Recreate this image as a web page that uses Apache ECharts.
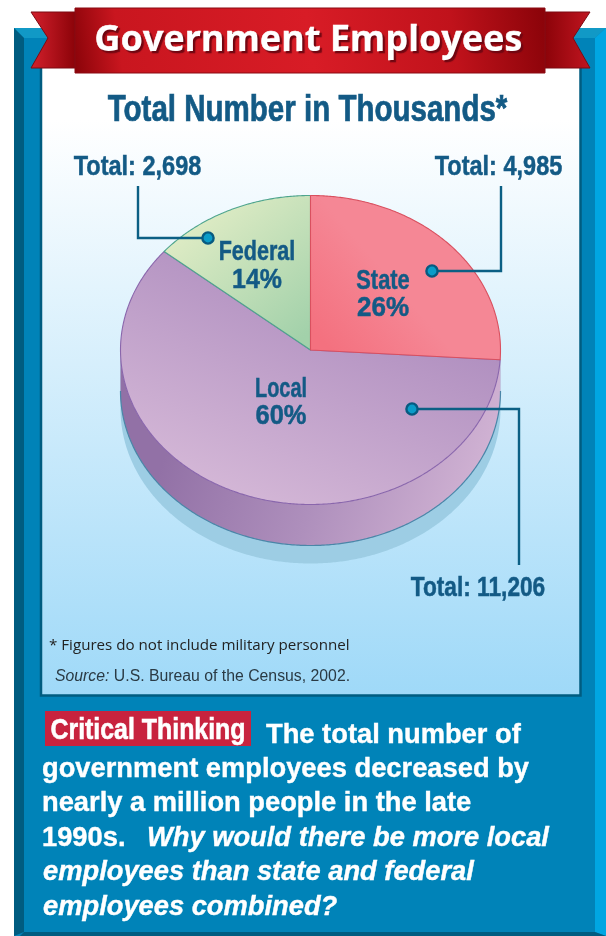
<!DOCTYPE html>
<html><head><meta charset="utf-8">
<style>html,body{margin:0;padding:0;background:#fff}#main{width:606px;height:936px}</style>
<script src="https://cdn.jsdelivr.net/npm/echarts@6/dist/echarts.min.js"></script>
</head><body><div id="main"></div>
<script>
const categories = ['State', 'Local', 'Federal'];
const percents = [26, 60, 14];
const totals = [4985, 11206, 2698];
const chartTitle = 'Government Employees';
const subTitle = 'Total Number in Thousands*';

const CX = 310.5, CY = 350, RX = 190, RY = 154.5, DEPTH = 41, SHADOW = 59;
const NARROW = '"Liberation Sans",sans-serif';
const grad = (x, y, x2, y2, a, b) => ({type:'linear', x, y, x2, y2, global:true,
  colorStops:[{offset:0,color:a},{offset:1,color:b}]});
const sliceStyle = {
  State:  {fill:grad(330,350,400,290,'#f4717f','#f58795'), stroke:'#d9505f'},
  Local:  {fill:grad(345,280,250,500,'#af8ebf','#d3b6d6'), stroke:'#8a66ac'},
  Federal:{fill:grad(190,210,300,340,'#e2edc6','#a2d1aa'), stroke:'#4fa58e'}
};
const labelPos = {State:[383,281,308,.78,.93], Local:[281,389,416,.71,.91], Federal:[257,252,280,.77,.89]};
const callouts = {
  State:{pts:[[501,186],[501,271],[432,271]], dot:[432,271], tx:498.5, ty:167, sx:.84},
  Local:{pts:[[519,565],[519,409],[412,409]], dot:[412,409], tx:478, ty:588, sx:.81},
  Federal:{pts:[[138,186],[138,238],[208,238]], dot:[208,238], tx:137.5, ty:167, sx:.84}
};
const arc = (a0, a1, dy) => { // angles in degrees clockwise from the top
  const out = [], n = Math.max(2, Math.ceil(Math.abs(a1 - a0) * 2));
  for (let k = 0; k <= n; k++) {
    const t = (a0 + (a1 - a0) * k / n) * Math.PI / 180;
    out.push([CX + RX * Math.sin(t), CY + dy - RY * Math.cos(t)]);
  }
  return out;
};
const cumStart = i => percents.slice(0, i).reduce((a, b) => a + b, 0) * 3.6;

function stretched(x, y, text, size, fill, sx, heavy) {
  return {type:'text', x, y, scaleX:sx, silent:true,
    style:{text, fill, font:'bold '+size+'px '+NARROW, textAlign:'center', textVerticalAlign:'middle',
      stroke:fill, lineWidth:heavy===undefined?0.5:heavy}};
}

function renderSlice(params, api) {
  const i = api.value(0), name = categories[i];
  const a0 = cumStart(i), a1 = a0 + percents[i] * 3.6;
  const st = sliceStyle[name];
  return {type:'polygon', z2:i===0?5:(i===2?4:3), shape:{points:[[CX,CY]].concat(arc(a0,a1,0))},
    style:{fill:st.fill, stroke:st.stroke, lineWidth:1.1, lineJoin:'round'}};
}
function renderLabel(params, api) {
  const i = api.value(0), name = categories[i], p = labelPos[name], c = callouts[name];
  const color = '#135a85';
  return {type:'group', children:[
    stretched(p[0], p[1], name, 28, color, p[3]),
    stretched(p[0], p[2], percents[i]+'%', 28, color, p[4]),
    {type:'polyline', shape:{points:c.pts}, style:{stroke:'#0b5f84', lineWidth:2.4, fill:null, lineJoin:'miter'}},
    {type:'circle', shape:{cx:c.dot[0], cy:c.dot[1], r:5.6}, style:{fill:'#0a9cc8', stroke:'#075a80', lineWidth:2.4}},
    stretched(c.tx, c.ty, 'Total: '+totals[i].toLocaleString('en-US'), 28, color, c.sx)
  ]};
}
function renderBase() {
  const bottom = arc(90, 270, DEPTH);
  const top = arc(270, 90, 0);
  return {type:'group', children:[
    {type:'polygon', shape:{points:arc(90,270,SHADOW).concat(arc(270,90,0))}, style:{fill:'#9dcde4'}},
    {type:'polygon', shape:{points:bottom.concat(top)},
      style:{fill:{type:'linear',global:true,x:170,y:440,x2:460,y2:540,colorStops:[
        {offset:0,color:'#9271a6'},{offset:0.5,color:'#ae8fbc'},{offset:1,color:'#d0b2d3'}]}}},
    {type:'polyline', shape:{points:bottom}, style:{stroke:'#4a86a8', lineWidth:1.2, fill:null}}
  ]};
}

const frame = [
  {type:'rect', z:1, shape:{x:14,y:28,width:592,height:908}, style:{fill:'#0083b8'}},
  {type:'polygon', z:1, shape:{points:[[14,28],[50,28],[50,38],[24,38]]}, style:{fill:'#1199c6'}},
  {type:'polygon', z:1, shape:{points:[[560,28],[606,28],[595,38],[560,38]]}, style:{fill:'#1199c6'}},
  {type:'polygon', z:1, shape:{points:[[14,28],[24,38],[24,932],[14,936]]}, style:{fill:'#005c80'}},
  {type:'polygon', z:1, shape:{points:[[595,38],[606,28],[606,936],[595,932]]}, style:{fill:'#00a6e2'}},
  {type:'polygon', z:1, shape:{points:[[20,936],[24,932],[595,932],[606,936]]}, style:{fill:'#005c80'}},
  {type:'rect', z:1, shape:{x:41,y:60,width:539.5,height:635.5}, style:{
    fill:grad(0,120,0,695,'#ffffff','#9fd9f8'), stroke:'#005c80', lineWidth:2.5}},
  // ribbon
  {type:'polygon', z:3, shape:{points:[[31,12],[75,12],[75,68],[31,68],[48,38]]}, style:{
    fill:grad(31,0,75,0,'#d3202c','#8c0309'), stroke:'#7d0a12', lineWidth:1}},
  {type:'polygon', z:3, shape:{points:[[590,12],[545,12],[545,68],[590,68],[573,38]]}, style:{
    fill:grad(545,0,590,0,'#8c0309','#c01520'), stroke:'#7d0a12', lineWidth:1}},
  {type:'rect', z:3, shape:{x:75,y:8,width:470,height:65}, style:{
    fill:{type:'linear',global:true,x:75,y:73,x2:545,y2:8,colorStops:[
      {offset:0,color:'#8a0309'},{offset:0.1,color:'#c9161f'},{offset:0.5,color:'#d81c26'},{offset:0.8,color:'#c0121b'},{offset:1,color:'#8a0309'}]},
    stroke:'#8a0a12', lineWidth:1}},
  {type:'text', z:4, x:308.5, y:41, style:{text:chartTitle, font:'bold 36px "Open Sans",sans-serif', fill:'#fff', stroke:'#fff', lineWidth:0.6,
    textAlign:'center', textVerticalAlign:'middle', textShadowColor:'#6f0510', textShadowOffsetX:2, textShadowOffsetY:2, textShadowBlur:1}},
  Object.assign(stretched(307.5, 111, subTitle, 36, '#135a85', .82, .7), {z:4}),
  {type:'text', z:4, x:49, y:646, style:{text:'* Figures do not include military personnel', font:'15.15px "Open Sans",sans-serif', fill:'#222', textVerticalAlign:'middle'}},
  {type:'text', z:4, x:55, y:677, style:{text:'{i|Source:} U.S. Bureau of the Census, 2002.', font:'15.8px "Liberation Sans",sans-serif', fill:'#2a3a44', textVerticalAlign:'middle',
    rich:{i:{font:'italic 15.8px "Liberation Sans",sans-serif', fill:'#2a3a44'}}}},
  {type:'rect', z:4, shape:{x:45,y:711,width:206,height:35}, style:{fill:'#c8233e'}},
  Object.assign(stretched(148, 731, 'Critical Thinking', 30, '#fff', .83, .6), {z:5})
];
const BODY = 'bold 27.3px "Liberation Sans",sans-serif', BODYI = 'italic bold 27.3px "Liberation Sans",sans-serif';
const bodyLines = [
  [266,749,'The total number of',BODY],
  [42,783,'government employees decreased by',BODY],
  [42,817,'nearly a million people in the late',BODY],
  [42,852,'1990s.',BODY],
  [147,852,'Why would there be more local',BODYI],
  [43,886,'employees than state and federal',BODYI],
  [43,921,'employees combined?',BODYI]
];
bodyLines.forEach(l => frame.push({type:'text', z:5, x:l[0], y:l[1],
  style:{text:l[2], font:l[3], fill:'#fff', stroke:'#fff', lineWidth:0.4, textVerticalAlign:'bottom'}}));

const idx = categories.map((c, i) => [i]);
const chart = echarts.init(document.getElementById('main'), null, {renderer:'canvas'});
chart.setOption({
  animation:false,
  backgroundColor:'#ffffff',
  graphic:{elements:frame},
  series:[
    {type:'custom', coordinateSystem:'none', z:2, data:[[0]], renderItem:renderBase, silent:true},
    {type:'custom', coordinateSystem:'none', z:3, data:idx, renderItem:renderSlice, silent:true},
    {type:'custom', coordinateSystem:'none', z:6, data:idx, renderItem:renderLabel, silent:true}
  ]
});
</script></body></html>
